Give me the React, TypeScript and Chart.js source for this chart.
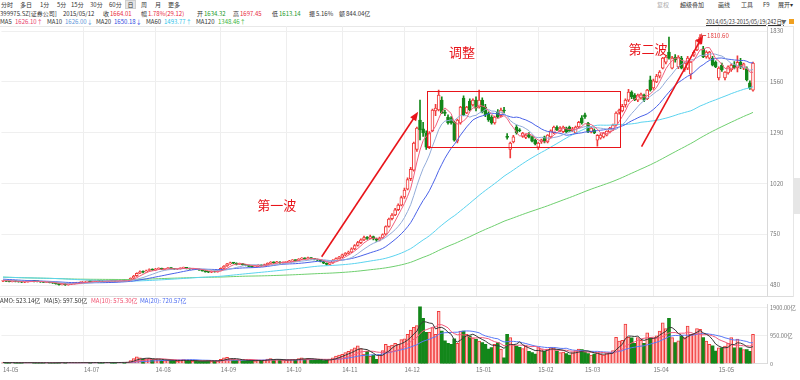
import React, { useEffect, useRef } from "react";
import { Chart, registerables } from "chart.js";

Chart.register(...registerables);

const FONT = "'Noto Sans CJK SC', 'Noto Sans', sans-serif";
const UP = "#f03a3a";
const DOWN = "#13871a";

// ---------- categories ----------
const holidays = [
  "2014-06-02", "2014-09-08", "2014-10-01", "2014-10-02", "2014-10-03", "2014-10-06", "2014-10-07",
  "2015-01-01", "2015-01-02", "2015-02-18", "2015-02-19", "2015-02-20", "2015-02-23", "2015-02-24",
  "2015-04-06", "2015-05-01",
];
const monthLabels = ["14-05", "14-07", "14-08", "14-09", "14-10", "14-11", "14-12", "15-01", "15-02", "15-03", "15-04", "15-05"];
const priceTicks = [480, 750, 1020, 1290, 1560, 1830];
const volumeTicks = [0, 950, 1900];
const emptySlots = 4;

function tradingDays(): string[] {
  const out: string[] = [];
  const d = new Date(Date.UTC(2014, 4, 23));
  const end = Date.UTC(2015, 4, 19);
  while (d.getTime() <= end) {
    const wd = d.getUTCDay();
    const s = d.toISOString().slice(0, 10);
    if (wd !== 0 && wd !== 6 && !holidays.includes(s)) out.push(s);
    d.setUTCDate(d.getUTCDate() + 1);
  }
  return out;
}

// ---------- series ----------
const historyBeforeWindow = [548, 543, 546, 540, 538, 541, 536, 533, 535, 530, 532, 528, 531, 526, 529, 524, 527, 522, 525, 520,
  523, 518, 521, 516, 519, 514, 517, 512, 515, 510, 513, 508, 511, 507, 509, 505, 508, 504, 506, 503];

const opens = [
  500, 503, 500, 498, 501, 499,
  497, 495, 497, 500, 502, 499, 498, 496, 494, 495, 493, 490, 486, 482, 485, 481, 484, 487, 490, 492,
  495, 497, 499, 498, 500, 502, 501, 499, 500, 503, 502, 500, 501, 504, 503, 507, 516, 529, 543, 551, 549, 557, 563,
  560, 565, 568, 563, 566, 570, 567, 564, 566, 569, 572, 568, 565, 567, 564, 560, 555, 550, 548, 552, 550,
  557, 569, 581, 592, 598, 596, 590, 593, 588, 584, 579, 576, 580, 585, 582, 588, 595, 600, 598, 602, 597,
  600, 603, 608, 612, 610, 618, 622, 619, 624, 620, 616, 612, 605, 596, 590, 598, 612, 620,
  628, 640, 648, 655, 672, 690, 705, 720, 732, 728, 738, 725, 718, 730, 750, 792, 832, 852, 880, 905,
  948, 990, 1045, 1091, 1200, 1357, 1310, 1288, 1215, 1300, 1405, 1410, 1463, 1398, 1373, 1368, 1345, 1245, 1341, 1474, 1395, 1457, 1437,
  1463, 1426, 1463, 1426, 1394, 1373, 1341, 1399, 1380, 1410, 1270, 1200, 1240, 1320, 1305, 1270, 1265, 1280, 1267, 1250,
  1212, 1240, 1267, 1240, 1267, 1290, 1318, 1300, 1295, 1314, 1320, 1300, 1288, 1320, 1368,
  1384, 1341, 1293, 1304, 1250, 1260, 1267, 1277, 1293, 1304, 1330, 1399, 1405, 1437, 1463, 1506, 1490, 1463, 1474, 1490, 1470, 1570,
  1527, 1560, 1590, 1633, 1665, 1718, 1633, 1692, 1639, 1686, 1623, 1633, 1600, 1702, 1729, 1766, 1735, 1692, 1686, 1686, 1665,
  1580, 1649, 1580, 1607, 1623, 1650, 1634.32, 1665, 1633, 1630, 1554, 1516,
];
const highs = [
  505, 504, 502, 503, 502, 500,
  499, 499, 502, 504, 503, 501, 500, 498, 497, 497, 495, 492, 488, 488, 487, 486, 489, 492, 494, 497,
  499, 501, 501, 502, 504, 504, 503, 502, 505, 505, 504, 503, 506, 506, 508, 518, 531, 545, 556, 555, 559, 566, 566,
  568, 571, 570, 568, 573, 572, 569, 568, 571, 575, 574, 570, 569, 569, 566, 562, 557, 553, 555, 554, 558,
  571, 583, 595, 602, 601, 598, 596, 595, 590, 586, 581, 583, 588, 587, 591, 598, 604, 603, 606, 604, 603,
  606, 611, 615, 614, 621, 626, 624, 628, 626, 622, 618, 614, 607, 598, 600, 615, 624, 632,
  645, 652, 660, 678, 695, 712, 726, 740, 738, 745, 740, 730, 735, 752, 795, 836, 860, 888, 912, 952,
  995, 1050, 1105, 1240, 1320, 1463, 1345, 1300, 1295, 1415, 1440, 1516, 1480, 1410, 1385, 1375, 1350, 1362, 1430, 1485, 1430, 1470, 1470,
  1480, 1516, 1475, 1440, 1400, 1380, 1378, 1412, 1420, 1425, 1285, 1240, 1275, 1330, 1312, 1292, 1282, 1290, 1272, 1255,
  1240, 1255, 1272, 1280, 1305, 1325, 1326, 1322, 1325, 1320, 1325, 1318, 1325, 1350, 1380,
  1394, 1345, 1318, 1310, 1280, 1285, 1292, 1300, 1318, 1335, 1400, 1415, 1440, 1470, 1520, 1512, 1498, 1495, 1500, 1495, 1520, 1590,
  1575, 1600, 1620, 1690, 1700, 1798, 1695, 1705, 1700, 1695, 1665, 1695, 1668, 1725, 1785, 1810.6, 1748, 1725, 1722, 1695, 1672,
  1640, 1660, 1615, 1645, 1655, 1668, 1697.45, 1685, 1660, 1640, 1565, 1665,
];
const lows = [
  498, 498, 496, 497, 497, 495,
  493, 493, 495, 498, 497, 496, 494, 492, 492, 491, 488, 484, 479, 480, 478, 479, 482, 485, 488, 490,
  493, 495, 496, 496, 498, 499, 497, 497, 498, 500, 498, 498, 499, 501, 501, 505, 514, 526, 540, 544, 547, 554, 557,
  558, 563, 561, 561, 564, 565, 562, 562, 564, 567, 566, 563, 563, 562, 558, 553, 548, 545, 546, 548, 548,
  555, 567, 579, 590, 593, 587, 588, 586, 582, 577, 573, 574, 578, 580, 580, 586, 593, 595, 596, 595, 595,
  598, 601, 605, 607, 608, 615, 617, 617, 618, 614, 610, 603, 594, 586, 588, 595, 609, 617,
  625, 636, 644, 652, 668, 686, 700, 716, 722, 725, 720, 712, 715, 727, 746, 788, 826, 848, 875, 900,
  940, 985, 1035, 1085, 1190, 1251, 1270, 1200, 1205, 1295, 1380, 1405, 1390, 1380, 1335, 1335, 1245, 1235, 1335, 1380, 1390, 1405, 1430,
  1405, 1420, 1395, 1375, 1350, 1335, 1335, 1368, 1375, 1395, 1255, 1155, 1235, 1282, 1295, 1265, 1258, 1262, 1240, 1225,
  1200, 1232, 1235, 1235, 1262, 1285, 1300, 1295, 1290, 1290, 1296, 1295, 1285, 1315, 1335,
  1365, 1290, 1288, 1285, 1218, 1255, 1262, 1272, 1288, 1300, 1325, 1388, 1400, 1425, 1455, 1470, 1460, 1455, 1468, 1455, 1465, 1510,
  1520, 1555, 1580, 1628, 1655, 1680, 1628, 1665, 1630, 1628, 1615, 1625, 1575, 1695, 1725, 1760, 1688, 1685, 1680, 1645, 1635,
  1570, 1615, 1570, 1600, 1615, 1628, 1613.14, 1630, 1625, 1565, 1520, 1510,
];
const closes = [
  503, 500, 498, 501, 499, 497,
  495, 497, 500, 502, 499, 498, 496, 494, 495, 493, 490, 486, 482, 485, 481, 484, 487, 490, 492, 495,
  497, 499, 498, 500, 502, 501, 499, 500, 503, 502, 500, 501, 504, 503, 506, 515, 528, 542, 550, 548, 556, 562, 560,
  565, 568, 563, 566, 570, 567, 564, 566, 569, 572, 568, 565, 567, 564, 560, 555, 550, 548, 552, 550, 556,
  568, 580, 592, 598, 596, 590, 593, 588, 584, 579, 576, 580, 585, 582, 588, 595, 600, 598, 602, 597, 600,
  603, 608, 612, 610, 618, 622, 619, 624, 620, 616, 612, 605, 596, 590, 598, 612, 620, 628,
  640, 648, 655, 672, 690, 705, 720, 732, 728, 738, 725, 718, 730, 748, 790, 830, 852, 880, 905, 945,
  985, 1040, 1095, 1235, 1314, 1304, 1288, 1213, 1288, 1410, 1420, 1490, 1394, 1392, 1341, 1341, 1250, 1357, 1426, 1384, 1426, 1410, 1463,
  1420, 1463, 1400, 1384, 1357, 1341, 1373, 1373, 1410, 1405, 1265, 1235, 1267, 1290, 1300, 1288, 1277, 1267, 1245, 1230,
  1235, 1251, 1240, 1277, 1300, 1320, 1306, 1314, 1320, 1293, 1298, 1310, 1320, 1345, 1341,
  1373, 1293, 1314, 1288, 1275, 1277, 1288, 1298, 1314, 1330, 1394, 1410, 1430, 1463, 1506, 1480, 1465, 1490, 1495, 1463, 1516, 1516,
  1565, 1590, 1612, 1686, 1692, 1686, 1686, 1676, 1692, 1633, 1660, 1686, 1665, 1718, 1782, 1798, 1692, 1718, 1718, 1649, 1639,
  1633, 1623, 1612, 1639, 1649, 1634.89, 1664.01, 1639, 1655, 1570, 1527, 1660,
];
// amount, 亿
const amounts = [
  45, 40, 38, 42, 40, 35,
  38, 35, 40, 42, 38, 36, 35, 34, 38, 33, 35, 40, 45, 38, 36, 35, 38, 40, 37, 42,
  40, 38, 42, 45, 48, 42, 40, 38, 45, 50, 42, 40, 48, 52, 60, 110, 180, 240, 200, 150, 170, 190, 160,
  150, 140, 120, 110, 130, 120, 100, 95, 110, 140, 120, 100, 90, 95, 85, 100, 110, 120, 90, 85, 100,
  150, 200, 220, 180, 150, 120, 130, 110, 100, 120, 110, 100, 120, 110, 130, 160, 180, 150, 140, 120, 130,
  120, 140, 150, 130, 180, 200, 160, 190, 150, 140, 130, 120, 110, 130, 160, 200, 260, 300,
  320, 380, 420, 480, 540, 610, 520, 330, 420, 250, 300, 150, 300, 450, 660, 600, 640, 700, 660, 820,
  850, 1000, 1150, 1240, 1300, 1940, 1550, 1070, 1070, 1230, 1000, 1780, 1110, 780, 700, 660, 850, 700, 1110, 1110, 1000, 940, 880,
  830, 770, 720, 666, 500, 550, 660, 720, 500, 200, 1000, 890, 666, 600, 560, 520, 600, 420, 380, 330,
  550, 480, 420, 500, 560, 540, 430, 380, 400, 350, 300, 380, 450, 500, 480,
  400, 350, 300, 330, 380, 320, 300, 350, 380, 450, 900, 770, 800, 1350, 900, 880, 700, 890, 800, 700, 1050, 880,
  880, 950, 1110, 1390, 1200, 1550, 890, 720, 780, 940, 890, 1280, 1000, 1000, 1200, 1170, 890, 770, 666, 610, 430,
  540, 540, 600, 700, 890, 540, 844, 540, 480, 480, 420, 1000,
];

// ---------- annotations (data coordinates: slot index, price) ----------
const boxNote = { i0: 136.25, i1: 198.3, p0: 1213, p1: 1511 };
const arrowNotes = [
  { i0: 102.4, p0: 630, i1: 133.4, p1: 1401 },
  { i0: 205.2, p0: 1215, i1: 225.0, p1: 1809 },
];
const textNotes = [
  { i: 88.0, p: 905, text: "第一波" },
  { i: 147.5, p: 1718, text: "调整" },
  { i: 207.3, p: 1734, text: "第二波" },
];
const maxNote = { i: 224, p: 1810.6, text: "1810.60" };

function movingAverage(values: number[], n: number, prior: number[] = []): number[] {
  const all = prior.concat(values);
  const out: number[] = [];
  for (let k = prior.length; k < all.length; k++) {
    const start = Math.max(0, k - n + 1);
    let s = 0;
    for (let j = start; j <= k; j++) s += all[j];
    out.push(+(s / (k - start + 1)).toFixed(2));
  }
  return out;
}

const annotationPlugin = {
  id: "notes",
  afterDatasetsDraw(chart: any) {
    const { ctx } = chart;
    const x = chart.scales.x;
    const y = chart.scales.y;
    const px = (i: number) => x.getPixelForValue(i);
    const py = (p: number) => y.getPixelForValue(p);
    ctx.save();
    ctx.strokeStyle = "#e8141a";
    ctx.fillStyle = "#e8141a";
    ctx.lineWidth = 1;
    const bx0 = Math.round(px(boxNote.i0)) + 0.5;
    const bx1 = Math.round(px(boxNote.i1)) + 0.5;
    const by0 = Math.round(py(boxNote.p1)) + 0.5;
    const by1 = Math.round(py(boxNote.p0)) + 0.5;
    ctx.strokeRect(bx0, by0, bx1 - bx0, by1 - by0);
    ctx.lineWidth = 1.6;
    for (const a of arrowNotes) {
      const x0 = px(a.i0), y0 = py(a.p0), x1 = px(a.i1), y1 = py(a.p1);
      const ang = Math.atan2(y1 - y0, x1 - x0);
      const L = 9, W = 3.6;
      ctx.beginPath();
      ctx.moveTo(x0, y0);
      ctx.lineTo(x1 - (L - 2) * Math.cos(ang), y1 - (L - 2) * Math.sin(ang));
      ctx.stroke();
      ctx.beginPath();
      ctx.moveTo(x1, y1);
      ctx.lineTo(x1 - L * Math.cos(ang) + W * Math.sin(ang), y1 - L * Math.sin(ang) - W * Math.cos(ang));
      ctx.lineTo(x1 - L * Math.cos(ang) - W * Math.sin(ang), y1 - L * Math.sin(ang) + W * Math.cos(ang));
      ctx.closePath();
      ctx.fill();
    }
    ctx.font = `13px ${FONT}`;
    ctx.textAlign = "center";
    ctx.textBaseline = "middle";
    for (const t of textNotes) ctx.fillText(t.text, px(t.i), py(t.p));
    const mx = px(maxNote.i), my = Math.round(py(maxNote.p)) + 0.5;
    ctx.lineWidth = 1;
    ctx.strokeStyle = "#e25050";
    ctx.beginPath();
    ctx.moveTo(mx + 1, my);
    ctx.lineTo(mx + 6, my);
    ctx.moveTo(mx + 1.5, my - 2);
    ctx.lineTo(mx + 1.5, my + 2);
    ctx.stroke();
    ctx.font = `6px ${FONT}`;
    ctx.textAlign = "left";
    ctx.fillStyle = "#e23a3a";
    ctx.fillText(maxNote.text, mx + 7, my);
    ctx.restore();
  },
};

type TP = { x: number; y: number; c?: string; s?: number; u?: boolean; children: React.ReactNode };
function T({ x, y, c = "#333", s = 6, u = false, children }: TP) {
  return (
    <span
      style={{
        position: "absolute", left: x, top: y - s / 2 - 0.5, fontSize: s, lineHeight: `${s + 1}px`,
        color: c, whiteSpace: "nowrap", textDecoration: u ? "underline" : "none",
      }}
    >
      {children}
    </span>
  );
}

export default function App() {
  const priceRef = useRef<HTMLCanvasElement>(null);
  const volRef = useRef<HTMLCanvasElement>(null);

  useEffect(() => {
    const dates = tradingDays();
    const labels = dates.concat(Array(emptySlots).fill(""));
    const tickText: Record<number, string> = {};
    monthLabels.forEach((m) => {
      const key = "20" + m;
      const idx = dates.findIndex((d) => d.startsWith(key));
      if (idx >= 0) tickText[idx] = m;
    });
    const isUp = closes.map((c, i) => c >= opens[i]);
    const candleColor = isUp.map((u) => (u ? UP : DOWN));
    const bodyFill = isUp.map((u) => (u ? "#ffffff" : DOWN));

    const ma5 = movingAverage(closes, 5, historyBeforeWindow);
    const ma10 = movingAverage(closes, 10, historyBeforeWindow);
    const ma20 = movingAverage(closes, 20, historyBeforeWindow);
    const ma60 = movingAverage(closes, 60, historyBeforeWindow);
    const ma120 = movingAverage(closes, 120, historyBeforeWindow);
    const vma5 = movingAverage(amounts, 5);
    const vma10 = movingAverage(amounts, 10);
    const vma20 = movingAverage(amounts, 20);

    const gridX = (ctx: any) => (tickText[ctx.index] && ctx.index > 0 ? "#eeeeee" : "rgba(0,0,0,0)");
    const line = (data: number[], color: string, order: number) => ({
      type: "line" as const, data, borderColor: color, borderWidth: 1, pointRadius: 0,
      tension: 0, fill: false, order,
    });
    const tickFont = { size: 6, family: FONT };

    const xBase = (showTicks: boolean) => ({
      type: "category" as const,
      offset: true,
      grid: { offset: false, drawTicks: false, color: gridX },
      border: { display: true, color: "#dddddd" },
      ticks: showTicks
        ? {
            autoSkip: false, maxRotation: 0, minRotation: 0, align: "start" as const, padding: 2,
            font: tickFont, color: "#777",
            callback: (_v: any, i: number) => tickText[i] || "",
          }
        : { display: false },
      afterFit: (s: any) => { s.paddingLeft = 0; s.paddingRight = 0; },
    });

    const price = new Chart(priceRef.current!, {
      type: "bar",
      data: {
        labels,
        datasets: [
          line(ma5, "#f0607e", 1),
          line(ma10, "#93acd9", 1),
          line(ma20, "#4a62e8", 1),
          line(ma60, "#5bd3ef", 1),
          line(ma120, "#6fcf6f", 1),
          {
            type: "bar", data: opens.map((o, i) => [Math.min(o, closes[i]), Math.max(o, closes[i])]) as any,
            backgroundColor: bodyFill, borderColor: candleColor, borderWidth: 1, borderSkipped: false,
            barThickness: 3, grouped: false, minBarLength: 1, order: 2,
          } as any,
          {
            type: "bar", data: lows.map((l, i) => [l, highs[i]]) as any,
            backgroundColor: candleColor, borderWidth: 0, barThickness: 1, grouped: false, order: 3,
          } as any,
        ],
      },
      options: {
        animation: false, responsive: true, maintainAspectRatio: false,
        layout: { padding: { left: 1.44, right: 0, top: 0, bottom: 1 } },
        plugins: { legend: { display: false }, tooltip: { enabled: false } },
        events: [],
        scales: {
          x: xBase(false) as any,
          y: {
            position: "right", min: 421.6, max: 1856.6,
            afterBuildTicks: (s: any) => { s.ticks = priceTicks.map((v) => ({ value: v })); },
            afterFit: (s: any) => { s.width = 33; s.paddingTop = 0; s.paddingBottom = 0; },
            grid: { color: "#efefef", drawTicks: false },
            border: { display: true, color: "#d9d9d9" },
            ticks: { font: tickFont, color: "#777", padding: 3, callback: (v: any) => String(v) },
          },
        },
      },
      plugins: [annotationPlugin],
    });

    const vol = new Chart(volRef.current!, {
      type: "bar",
      data: {
        labels,
        datasets: [
          line(vma5, "#3a3a3a", 1),
          line(vma10, "#f2587a", 1),
          line(vma20, "#5878f6", 1),
          {
            type: "bar", data: amounts,
            backgroundColor: isUp.map((u) => (u ? "#ffc2c2" : DOWN)),
            borderColor: candleColor, borderWidth: isUp.map((u) => (u ? 1 : 0)) as any,
            borderSkipped: "start", barThickness: 3, order: 2,
          } as any,
        ],
      },
      options: {
        animation: false, responsive: true, maintainAspectRatio: false,
        layout: { padding: { left: 1.44, right: 0, top: 0, bottom: 5 } },
        plugins: { legend: { display: false }, tooltip: { enabled: false } },
        events: [],
        scales: {
          x: xBase(true) as any,
          y: {
            position: "right", min: 0, max: 2033,
            afterBuildTicks: (s: any) => { s.ticks = volumeTicks.map((v) => ({ value: v })); },
            afterFit: (s: any) => { s.width = 33; s.paddingTop = 0; s.paddingBottom = 0; },
            grid: { color: "#efefef", drawTicks: false },
            border: { display: true, color: "#d9d9d9" },
            ticks: {
              font: { size: 5.6, family: FONT }, color: "#777", padding: 3,
              callback: (v: any) => (v === 0 ? "0" : Number(v).toFixed(2) + "亿"),
            },
          },
        },
      },
    });

    return () => { price.destroy(); vol.destroy(); };
  }, []);

  const RED = "#e8283c";
  const GRN = "#1a9a2a";
  return (
    <div style={{ position: "fixed", left: 0, top: 0, width: 800, height: 380, background: "#fff", overflow: "hidden", fontFamily: FONT }}>
      <T x={1} y={4.5}>分时</T>
      <T x={20} y={4.5}>多日</T>
      <T x={40} y={4.5}>1分</T>
      <T x={57} y={4.5}>5分</T>
      <T x={71} y={4.5}>15分</T>
      <T x={90} y={4.5}>30分</T>
      <T x={109} y={4.5}>60分</T>
      <div style={{ position: "absolute", left: 125, top: 0, width: 11, height: 9, background: "#e4e4e4", border: "1px solid #cfcfcf", boxSizing: "border-box" }} />
      <T x={127.5} y={4.5}>日</T>
      <T x={141} y={4.5}>周</T>
      <T x={155} y={4.5}>月</T>
      <T x={168} y={4.5}>更多</T>
      <T x={657} y={4.5} c="#aaa">复权</T>
      <T x={680} y={4.5}>超级叠加</T>
      <T x={718} y={4.5}>画线</T>
      <T x={741} y={4.5}>工具</T>
      <T x={763} y={4.5}>F9</T>
      <T x={778} y={4.5}>展开▾</T>
      <T x={0} y={13.3}>399975.SZ[证券公司]</T>
      <T x={63} y={13.3}>2015/05/12</T>
      <T x={103} y={13.3}>收</T>
      <T x={110} y={13.3} c={RED}>1664.01</T>
      <T x={141} y={13.3}>幅</T>
      <T x={148} y={13.3} c={RED}>1.78%(29.12)</T>
      <T x={197} y={13.3}>开</T>
      <T x={204} y={13.3} c={GRN}>1634.32</T>
      <T x={233} y={13.3}>高</T>
      <T x={240} y={13.3} c={RED}>1697.45</T>
      <T x={272} y={13.3}>低</T>
      <T x={279} y={13.3} c={GRN}>1613.14</T>
      <T x={309} y={13.3}>振</T>
      <T x={316} y={13.3}>5.16%</T>
      <T x={339} y={13.3}>额</T>
      <T x={346} y={13.3}>844.04亿</T>
      <T x={0} y={21.8}>MA5</T>
      <T x={15} y={21.8} c="#e8406a">1626.10↑</T>
      <T x={47} y={21.8}>MA10</T>
      <T x={65} y={21.8} c="#5b95d8">1626.00↓</T>
      <T x={96} y={21.8}>MA20</T>
      <T x={114} y={21.8} c="#2f4de0">1650.18↓</T>
      <T x={146} y={21.8}>MA60</T>
      <T x={164} y={21.8} c="#2cc3ea">1493.77↑</T>
      <T x={196} y={21.8}>MA120</T>
      <T x={218} y={21.8} c="#38b438">1348.46↑</T>
      <T x={706} y={21.8} s={5.5} u>2014/05/23-2015/05/19(242日)</T>
      <T x={781} y={21.8} s={5.5} c="#666">▼</T>
      <div style={{ position: "absolute", left: 789, top: 19, width: 5, height: 5, background: "#f0a020" }} />
      <div style={{ position: "absolute", left: 0, top: 26, width: 793, height: 1, background: "#e8e8e8" }} />
      <div style={{ position: "absolute", left: 793, top: 26, width: 1, height: 271, background: "#e6e6e6" }} />
      <div style={{ position: "absolute", left: 794, top: 178, width: 6, height: 36, background: "#e6e6e6" }} />
      <div style={{ position: "absolute", left: 0, top: 26, width: 800, height: 271 }}>
        <canvas ref={priceRef} />
      </div>
      <div style={{ position: "absolute", left: 0, top: 296, width: 793, height: 1, background: "#dddddd" }} />
      <T x={0} y={300}>AMO: 523.14亿</T>
      <T x={44} y={300}>MA(5): 597.50亿</T>
      <T x={91} y={300} c="#f0506e">MA(10): 575.30亿</T>
      <T x={140} y={300} c="#4a6af0">MA(20): 720.57亿</T>
      <div style={{ position: "absolute", left: 0, top: 304, width: 800, height: 76 }}>
        <canvas ref={volRef} />
      </div>
    </div>
  );
}
